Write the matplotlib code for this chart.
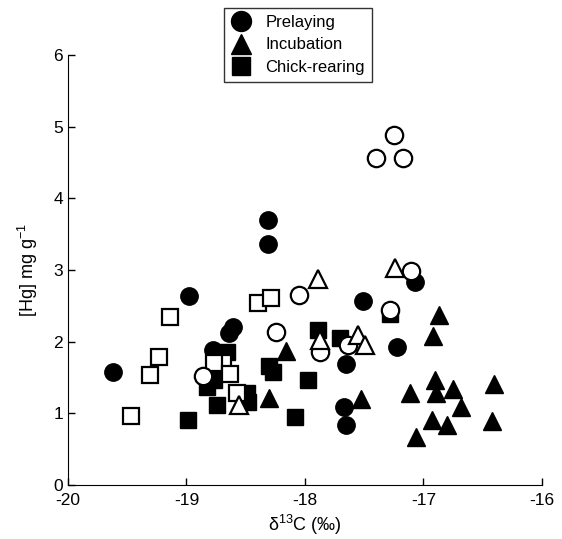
import numpy as np
import matplotlib.pyplot as plt

plt.rcParams['font.family'] = ['Liberation Sans', 'DejaVu Sans']
plt.rcParams['axes.unicode_minus'] = False
plt.rcParams['mathtext.fontset'] = 'custom'
plt.rcParams['mathtext.rm'] = 'Liberation Sans'
plt.rcParams['mathtext.default'] = 'regular'

# prelaying
pre_x = [-19.62, -18.98, -18.64, -18.61, -18.78, -18.31, -18.31, -17.51, -17.22,
         -17.65, -17.67, -17.65, -17.07]
pre_y = [1.58, 2.64, 2.12, 2.20, 1.88, 3.70, 3.36, 2.57, 1.93,
         1.69, 1.09, 0.84, 2.83]
pre_open_x = [-17.25, -17.17, -17.40, -17.10, -17.28, -18.05, -18.24, -17.87,
              -17.64, -18.86]
pre_open_y = [4.88, 4.56, 4.56, 2.98, 2.44, 2.65, 2.13, 1.85, 1.95, 1.52]

# incubation
inc_x = [-18.16, -18.30, -17.53, -17.11, -16.87, -16.92, -16.90, -16.89, -16.75,
         -16.68, -16.93, -16.80, -17.06, -16.40, -16.42]
inc_y = [1.87, 1.21, 1.20, 1.28, 2.37, 2.08, 1.46, 1.28, 1.34,
         1.09, 0.91, 0.84, 0.67, 1.41, 0.89]
inc_open_x = [-18.56, -17.89, -17.24, -17.87, -17.55, -17.49]
inc_open_y = [1.12, 2.88, 3.03, 2.02, 2.09, 1.95]

# chick-rearing
chk_x = [-18.99, -18.66, -18.83, -18.74, -18.49, -18.48, -18.77, -18.30, -18.27,
         -17.97, -18.08, -17.89, -17.70, -17.28]
chk_y = [0.91, 1.86, 1.37, 1.12, 1.28, 1.16, 1.46, 1.66, 1.58,
         1.46, 0.95, 2.17, 2.05, 2.38]
chk_open_x = [-19.47, -19.31, -19.23, -19.14, -18.40, -18.29, -18.69, -18.77,
              -18.63, -18.57]
chk_open_y = [0.96, 1.53, 1.79, 2.34, 2.54, 2.61, 1.71, 1.70, 1.55, 1.29]

fig = plt.figure(figsize=(5.62, 5.39), dpi=100)
ax = fig.add_axes([0.121, 0.100, 0.843, 0.798])

ms = 12.5
ew = 1.6
ax.plot(chk_x, chk_y, 's', ms=ms - 1, color='black', mec='black', ls='none')
ax.plot(pre_x, pre_y, 'o', ms=ms, color='black', mec='black', ls='none', label='Prelaying')
ax.plot(inc_x, inc_y, '^', ms=ms, color='black', mec='black', ls='none', label='Incubation')
ax.plot([], [], 's', ms=ms - 1, color='black', ls='none', label='Chick-rearing')
ax.plot(chk_open_x, chk_open_y, 's', ms=ms - 1, mfc='white', mec='black', mew=ew, ls='none')
ax.plot(pre_open_x, pre_open_y, 'o', ms=ms, mfc='white', mec='black', mew=ew, ls='none')
ax.plot(inc_open_x, inc_open_y, '^', ms=ms, mfc='white', mec='black', mew=ew, ls='none')

ax.set_xlim(-20, -16)
ax.set_ylim(0, 6)
ax.set_xticks([-20, -19, -18, -17, -16])
ax.set_yticks([0, 1, 2, 3, 4, 5, 6])
ax.tick_params(direction='in', labelsize=12.5, length=5, width=1)
ax.tick_params(axis='x', pad=6)
ax.spines['top'].set_visible(False)
ax.spines['right'].set_visible(False)
ax.set_xlabel('δ$^{13}$C (‰)', fontsize=13, labelpad=3)
ax.set_ylabel('[Hg] mg g$^{-1}$', fontsize=13, labelpad=10)

leg = ax.legend(loc='upper center', bbox_to_anchor=(0.485, 1.128), frameon=True,
                fancybox=False, edgecolor='black', fontsize=12,
                handletextpad=0.8, borderpad=0.4, labelspacing=0.45,
                handlelength=1.3, markerscale=1.15)
leg.get_frame().set_linewidth(1.0)

fig.savefig('out.png', dpi=100)
